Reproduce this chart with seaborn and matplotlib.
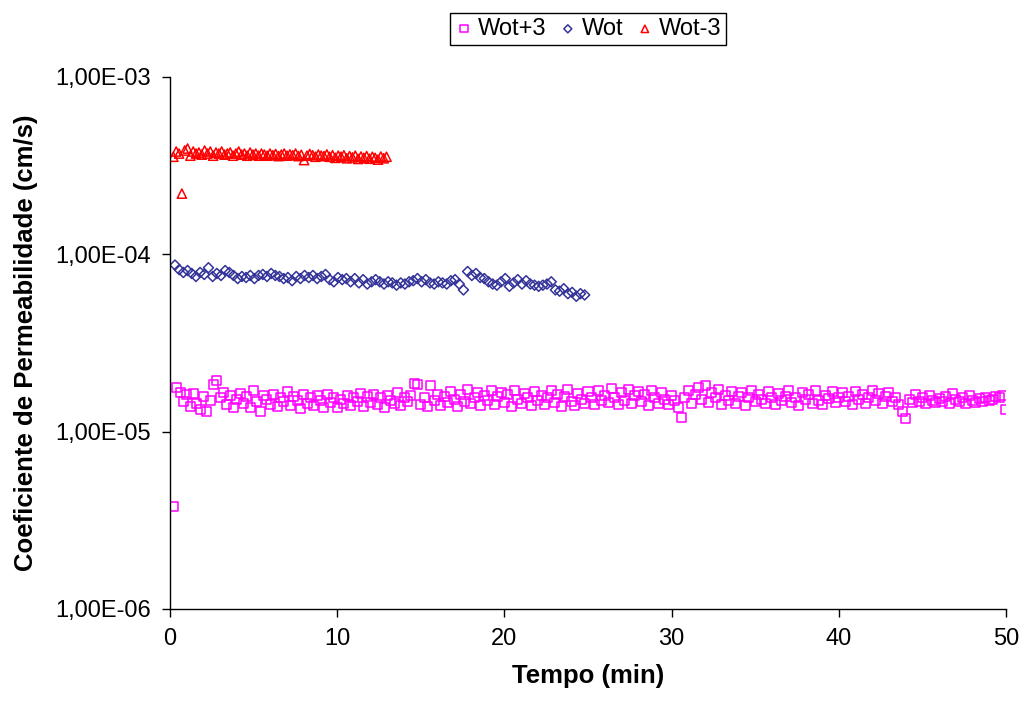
import numpy as np
import pandas as pd
import matplotlib
matplotlib.use("Agg")
import matplotlib.pyplot as plt
from matplotlib.ticker import FixedLocator, FuncFormatter, NullLocator
import seaborn as sns

# Wot+3 - leituras a cada 0,2 min, k em 1e-5 cm/s
t_wot_mais3 = np.round(np.arange(0.2, 50.01, 0.2), 2)
k_wot_mais3 = [
    0.38, 1.77, 1.66, 1.48, 1.62, 1.38, 1.65, 1.44, 1.33, 1.58,
    1.30, 1.50, 1.84, 1.94, 1.55, 1.67, 1.42, 1.60, 1.36, 1.52,
    1.65, 1.45, 1.58, 1.36, 1.70, 1.48, 1.30, 1.60, 1.52, 1.42,
    1.62, 1.38, 1.55, 1.47, 1.68, 1.40, 1.58, 1.50, 1.35, 1.63,
    1.45, 1.55, 1.40, 1.60, 1.50, 1.37, 1.62, 1.46, 1.56, 1.36,
    1.52, 1.44, 1.60, 1.40, 1.55, 1.48, 1.65, 1.38, 1.58, 1.46,
    1.62, 1.42, 1.55, 1.36, 1.60, 1.50, 1.44, 1.66, 1.40, 1.56,
    1.48, 1.60, 1.86, 1.85, 1.42, 1.55, 1.38, 1.82, 1.50, 1.62,
    1.40, 1.58, 1.46, 1.68, 1.52, 1.38, 1.62, 1.48, 1.72, 1.44,
    1.56, 1.66, 1.40, 1.60, 1.50, 1.70, 1.42, 1.58, 1.66, 1.46,
    1.62, 1.38, 1.70, 1.52, 1.44, 1.65, 1.56, 1.40, 1.68, 1.50,
    1.60, 1.42, 1.55, 1.70, 1.46, 1.62, 1.38, 1.58, 1.72, 1.48,
    1.40, 1.64, 1.52, 1.45, 1.68, 1.56, 1.42, 1.70, 1.50, 1.60,
    1.46, 1.75, 1.55, 1.42, 1.66, 1.50, 1.72, 1.44, 1.60, 1.68,
    1.48, 1.62, 1.40, 1.70, 1.55, 1.45, 1.66, 1.52, 1.42, 1.60,
    1.50, 1.37, 1.20, 1.56, 1.70, 1.45, 1.62, 1.78, 1.52, 1.82,
    1.46, 1.66, 1.55, 1.72, 1.42, 1.60, 1.50, 1.68, 1.44, 1.58,
    1.66, 1.40, 1.55, 1.70, 1.48, 1.62, 1.52, 1.45, 1.68, 1.56,
    1.42, 1.64, 1.50, 1.58, 1.70, 1.46, 1.56, 1.40, 1.66, 1.52,
    1.62, 1.45, 1.70, 1.50, 1.42, 1.60, 1.54, 1.68, 1.46, 1.56,
    1.66, 1.48, 1.58, 1.42, 1.68, 1.52, 1.62, 1.45, 1.56, 1.70,
    1.50, 1.64, 1.44, 1.58, 1.66, 1.48, 1.55, 1.42, 1.30, 1.18,
    1.52, 1.46, 1.62, 1.48, 1.56, 1.44, 1.60, 1.50, 1.46, 1.54,
    1.48, 1.58, 1.45, 1.65, 1.52, 1.47, 1.55, 1.44, 1.60, 1.50,
    1.46, 1.54, 1.48, 1.56, 1.50, 1.52, 1.58, 1.55, 1.60, 1.33,
]

# Wot - leituras a cada 0,25 min, k em 1e-5 cm/s
t_wot = np.round(np.arange(0.3, 24.81, 0.25), 2)
k_wot = [
    8.7, 8.2, 7.9, 8.1, 7.8, 7.5, 7.9, 7.7, 8.4, 7.5,
    7.8, 7.6, 8.1, 7.9, 7.6, 7.3, 7.5, 7.4, 7.6, 7.3,
    7.6, 7.7, 7.5, 7.8, 7.6, 7.5, 7.3, 7.4, 7.1, 7.5,
    7.3, 7.6, 7.4, 7.6, 7.3, 7.5, 7.7, 7.2, 7.0, 7.4,
    7.2, 7.3, 7.0, 7.3, 6.9, 7.2, 6.8, 7.0, 7.2, 7.0,
    6.8, 7.0, 6.9, 6.7, 6.9, 6.8, 7.0, 7.1, 7.3, 7.0,
    7.2, 6.9, 6.8, 7.0, 6.9, 6.8, 7.1, 7.2, 6.8, 6.3,
    8.0, 7.6, 7.8, 7.4, 7.3, 7.0, 6.8, 6.7, 7.0, 7.3,
    6.6, 6.9, 7.2, 6.8, 7.1, 6.8, 6.7, 6.6, 6.7, 6.8,
    7.0, 6.3, 6.2, 6.4, 6.0, 6.1, 5.8, 6.0, 5.9,
]

# Wot-3 - leituras a cada 0,17 min, k em 1e-4 cm/s
t_wot_menos3 = np.round(np.arange(0.2, 12.96, 0.17), 2)
k_wot_menos3 = [
    3.55, 3.80, 3.70, 2.20, 3.85, 3.95, 3.60, 3.80, 3.70, 3.75,
    3.65, 3.85, 3.70, 3.80, 3.60, 3.75, 3.70, 3.80, 3.65, 3.70,
    3.75, 3.60, 3.70, 3.80, 3.65, 3.70, 3.60, 3.75, 3.65, 3.70,
    3.60, 3.70, 3.65, 3.60, 3.70, 3.62, 3.68, 3.58, 3.65, 3.70,
    3.60, 3.66, 3.62, 3.70, 3.58, 3.64, 3.40, 3.60, 3.68, 3.62,
    3.55, 3.65, 3.60, 3.58, 3.66, 3.55, 3.62, 3.50, 3.60, 3.55,
    3.62, 3.48, 3.58, 3.52, 3.60, 3.45, 3.56, 3.50, 3.58, 3.46,
    3.55, 3.50, 3.42, 3.56, 3.48, 3.55,
]

df = pd.concat([
    pd.DataFrame({"tempo": t_wot_mais3, "k": np.array(k_wot_mais3) * 1e-5, "serie": "Wot+3"}),
    pd.DataFrame({"tempo": t_wot, "k": np.array(k_wot) * 1e-5, "serie": "Wot"}),
    pd.DataFrame({"tempo": t_wot_menos3, "k": np.array(k_wot_menos3) * 1e-4, "serie": "Wot-3"}),
])

estilos = {
    "Wot+3": dict(marker="s", color="#FF00FF", s=42),
    "Wot": dict(marker="D", color="#333399", s=26),
    "Wot-3": dict(marker="^", color="#FF0000", s=44),
}

sns.set_theme(style="ticks")
plt.rcParams["font.family"] = ["Liberation Sans", "DejaVu Sans"]
plt.rcParams["text.color"] = "black"
plt.rcParams["axes.labelcolor"] = "black"

fig = plt.figure(figsize=(10.26, 7.09), dpi=100)
ax = fig.add_axes([170 / 1026, 1 - 609 / 709, 836 / 1026, 532 / 709])

for nome, st in estilos.items():
    sub = df[df["serie"] == nome]
    sns.scatterplot(data=sub, x="tempo", y="k", ax=ax, marker=st["marker"],
                    s=st["s"], color=st["color"], facecolor="none",
                    edgecolor=st["color"], linewidth=1.1, label=nome)

ax.set_yscale("log")
ax.set_ylim(1e-6, 1e-3)
ax.set_xlim(0, 50)
ax.yaxis.set_major_locator(FixedLocator([1e-6, 1e-5, 1e-4, 1e-3]))
ax.yaxis.set_minor_locator(NullLocator())


def fmt_sci(v, pos):
    exp = int(np.round(np.log10(v)))
    return f"1,00E{exp:+03d}"


ax.yaxis.set_major_formatter(FuncFormatter(fmt_sci))
ax.set_xticks([0, 10, 20, 30, 40, 50])

ax.tick_params(axis="both", labelsize=17, length=6, width=1, color="black",
               labelcolor="black", direction="out")
ax.tick_params(axis="y", pad=8)
ax.tick_params(axis="x", pad=8)

for side in ["top", "right"]:
    ax.spines[side].set_visible(False)
for side in ["left", "bottom"]:
    ax.spines[side].set_color("black")
    ax.spines[side].set_linewidth(1)

ax.set_xlabel("Tempo (min)", fontsize=18.5, fontweight="bold", labelpad=10)
ax.set_ylabel("Coeficiente de Permeabilidade (cm/s)", fontsize=18.5,
              fontweight="bold", labelpad=12)

leg = ax.legend(loc="center", bbox_to_anchor=(0.5, 1.0902), ncol=3,
                fontsize=17, frameon=True, fancybox=False, framealpha=1,
                edgecolor="black", borderpad=0.2, handletextpad=0.2,
                columnspacing=0.5, handlelength=0.8, markerscale=0.8,
                borderaxespad=0)
leg.get_frame().set_linewidth(1)

fig.savefig("out.png", dpi=100)
